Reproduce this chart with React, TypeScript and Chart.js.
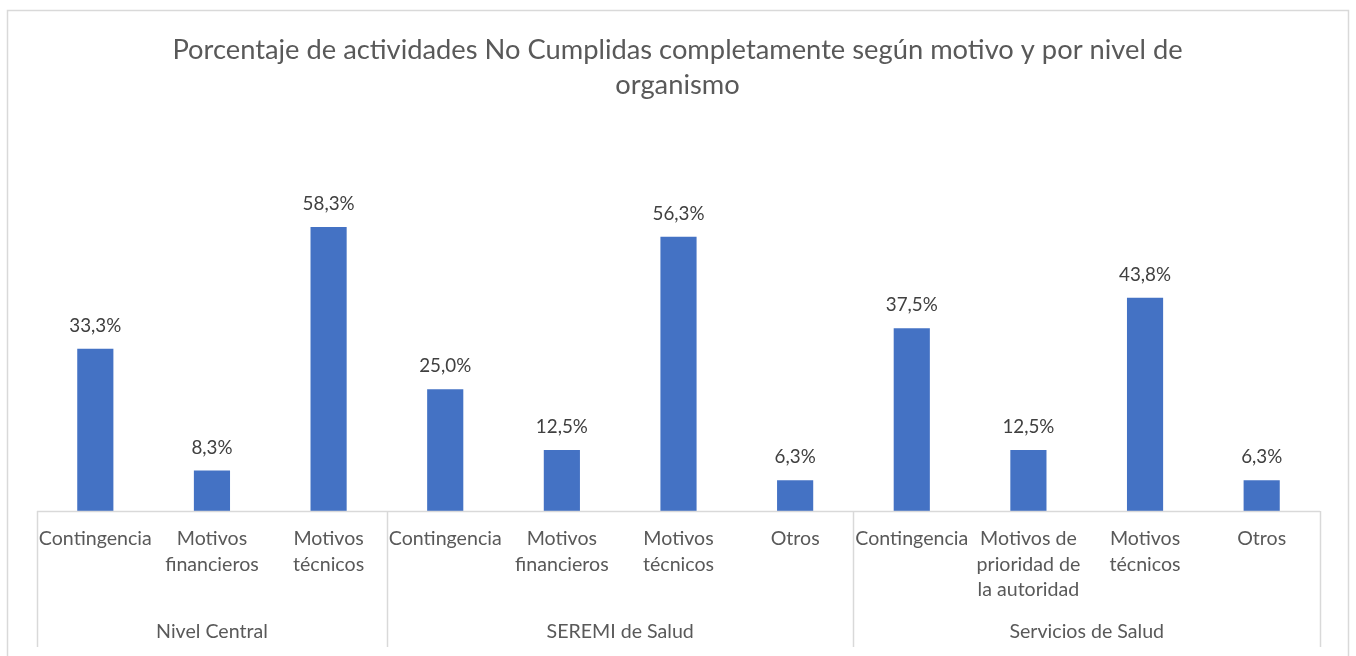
import React, { useEffect, useRef } from "react";
import { Chart, registerables } from "chart.js";

Chart.register(...registerables);

const titleLines = [
  "Porcentaje de actividades No Cumplidas completamente según motivo y por nivel de",
  "organismo",
];
const categoryLabels: string[][] = [
  ["Contingencia"],
  ["Motivos", "financieros"],
  ["Motivos", "técnicos"],
  ["Contingencia"],
  ["Motivos", "financieros"],
  ["Motivos", "técnicos"],
  ["Otros"],
  ["Contingencia"],
  ["Motivos de", "prioridad de", "la autoridad"],
  ["Motivos", "técnicos"],
  ["Otros"],
];
const groupNames = ["Nivel Central", "SEREMI de Salud", "Servicios de Salud"];
const groupSizes = [3, 4, 4];
const values = [33.3, 8.3, 58.3, 25.0, 12.5, 56.3, 6.3, 37.5, 12.5, 43.8, 6.3];

const FONT = "Lato, 'Open Sans', sans-serif";
const fmt = (v: number) => v.toFixed(1).replace(".", ",") + "%";

const decorPlugin = {
  id: "decor",
  afterDraw(chart: any) {
    const ctx = chart.ctx as CanvasRenderingContext2D;
    const area = chart.chartArea;
    const xs = chart.scales.x;
    const W = chart.width;
    ctx.save();
    // outer border
    ctx.strokeStyle = "#d9d9d9";
    ctx.lineWidth = 1.5;
    ctx.strokeRect(7.5, 10.5, 1341, 700);
    // title
    ctx.fillStyle = "#595959";
    ctx.font = `27.3px ${FONT}`;
    ctx.textAlign = "center";
    ctx.textBaseline = "middle";
    titleLines.forEach((t, i) => ctx.fillText(t, W / 2 - 0.5, 50 + i * 35));
    // data labels
    const meta = chart.getDatasetMeta(0);
    ctx.fillStyle = "#404040";
    ctx.font = `18.8px ${FONT}`;
    meta.data.forEach((el: any, i: number) => {
      ctx.fillText(fmt(values[i]), el.x, el.y - 23);
    });
    // axis line
    const half = (xs.getPixelForValue(1) - xs.getPixelForValue(0)) / 2;
    ctx.strokeStyle = "#d9d9d9";
    ctx.lineWidth = 1.5;
    ctx.beginPath();
    ctx.moveTo(area.left, area.bottom + 0.5);
    ctx.lineTo(area.right, area.bottom + 0.5);
    ctx.stroke();
    // separators
    let idx = 0;
    const bounds: number[] = [area.left];
    groupSizes.forEach((n) => {
      idx += n;
      bounds.push(xs.getPixelForValue(idx - 1) + half);
    });
    bounds.forEach((bx) => {
      ctx.beginPath();
      ctx.moveTo(Math.round(bx) + 0.5, area.bottom);
      ctx.lineTo(Math.round(bx) + 0.5, area.bottom + 136);
      ctx.stroke();
    });
    // category labels
    ctx.fillStyle = "#595959";
    ctx.font = `19.6px ${FONT}`;
    categoryLabels.forEach((lines, i) => {
      const cx = xs.getPixelForValue(i);
      lines.forEach((l, j) => ctx.fillText(l, cx, area.bottom + 28 + j * 25.5));
    });
    // group labels
    groupNames.forEach((g, i) => {
      const cx = (bounds[i] + bounds[i + 1]) / 2;
      ctx.fillText(g, cx, area.bottom + 121);
    });
    ctx.restore();
  },
};

export default function App() {
  const ref = useRef<HTMLCanvasElement>(null);
  useEffect(() => {
    const chart = new Chart(ref.current!, {
      type: "bar",
      data: {
        labels: categoryLabels.map((l) => l.join(" ")),
        datasets: [
          {
            data: values,
            backgroundColor: "#4472C4",
            categoryPercentage: 1,
            barPercentage: 0.31,
          },
        ],
      },
      options: {
        responsive: false,
        animation: false,
        layout: { padding: { left: 37, right: 36, top: 170, bottom: 145 } },
        plugins: { legend: { display: false }, tooltip: { enabled: false }, title: { display: false } },
        scales: {
          x: { display: false },
          y: { display: false, min: 0, max: 70 },
        },
      },
      plugins: [decorPlugin],
    });
    return () => chart.destroy();
  }, []);
  return (
    <div style={{ position: "fixed", left: 0, top: 0, width: 1356, height: 656, background: "#fff", overflow: "hidden" }}>
      <canvas ref={ref} width={1356} height={656} style={{ display: "block" }} />
    </div>
  );
}
